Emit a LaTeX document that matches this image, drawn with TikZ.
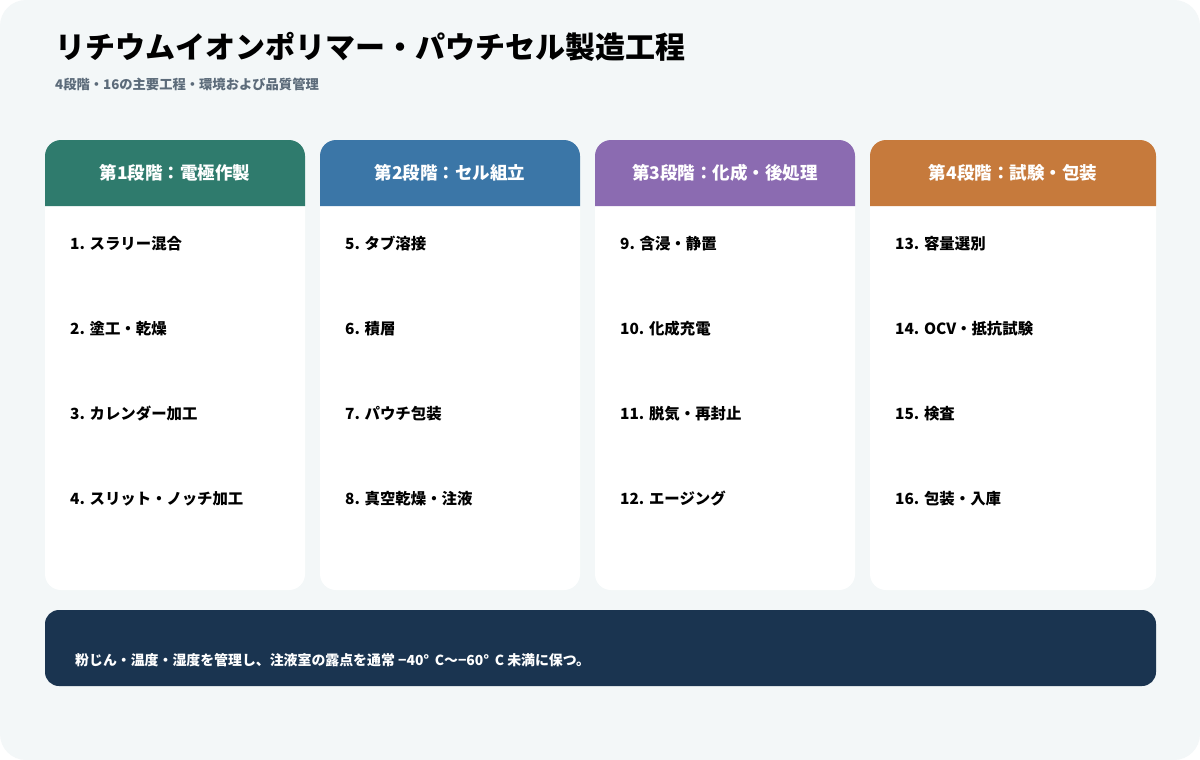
\documentclass[tikz,border=0pt]{standalone}
\usepackage{fontspec}
\setmainfont{Noto Sans CJK JP}
\usetikzlibrary{positioning}
\definecolor{pagebg}{HTML}{F3F7F8}
\definecolor{stageA}{HTML}{2F7B6D}
\definecolor{stageB}{HTML}{3B76A7}
\definecolor{stageC}{HTML}{8B6BB1}
\definecolor{stageD}{HTML}{C67A3C}
\definecolor{notebar}{HTML}{1A3450}
\definecolor{subgray}{HTML}{5C6B7A}
\tikzset{
 stagehead/.style={text=white, font=\bfseries\fontsize{17.5}{17.5}\selectfont, inner sep=0},
 stepitem/.style={anchor=west, text=black, font=\bfseries\fontsize{15.4}{15.4}\selectfont, inner sep=0}
}

\begin{document}
\begin{tikzpicture}[x=1pt, y=-1pt]
\useasboundingbox (0,0) rectangle (1200,760);
\fill[white] (0,0) rectangle (1200,760);
\fill[pagebg, rounded corners=26] (0,0) rectangle (1200,760);

\node[anchor=west, inner sep=0, font=\bfseries\fontsize{30}{30}\selectfont] (title) at (55,47) {リチウムイオンポリマー・パウチセル製造工程};
\node[anchor=west, inner sep=0, text=subgray, font=\bfseries\fontsize{13.3}{13.3}\selectfont] (subtitle) at (55,84) {4段階・16の主要工程・環境および品質管理};

% stage cards
\foreach \x/\w/\c/\t [count=\i] in {45/260/stageA/{第1段階：電極作製}, 320/260/stageB/{第2段階：セル組立}, 595/260/stageC/{第3段階：化成・後処理}, 870/286/stageD/{第4段階：試験・包装}} {
 \fill[white, rounded corners=16] (\x,140) rectangle (\x+\w,590);
 \fill[\c] (\x,206) [rounded corners=16] -- (\x,140) -- (\x+\w,140) -- (\x+\w,206);
 \node[stagehead] (head\i) at (\x+\w/2,173) {\t};
}

% process steps
\foreach \n/\t [count=\k from 0] in {1/スラリー混合, 2/塗工・乾燥, 3/カレンダー加工, 4/スリット・ノッチ加工,
 5/タブ溶接, 6/積層, 7/パウチ包装, 8/真空乾燥・注液,
 9/含浸・静置, 10/化成充電, 11/脱気・再封止, 12/エージング,
 13/容量選別, 14/OCV・抵抗試験, 15/検査, 16/包装・入庫} {
 \pgfmathtruncatemacro\col{\k/4}
 \pgfmathtruncatemacro\row{mod(\k,4)}
 \node[stepitem] (step\n) at (70+275*\col, 244+85*\row) {\n. \t};
}

% environment note
\fill[notebar, rounded corners=14] (45,610) rectangle (1156,686);
\node[anchor=west, inner sep=0, text=white, font=\bfseries\fontsize{13.9}{13.9}\selectfont] (envnote) at (75,660) {粉じん・温度・湿度を管理し、注液室の露点を通常 −40°\,\ C〜−60°\,\ C 未満に保つ。};
\end{tikzpicture}
\end{document}
